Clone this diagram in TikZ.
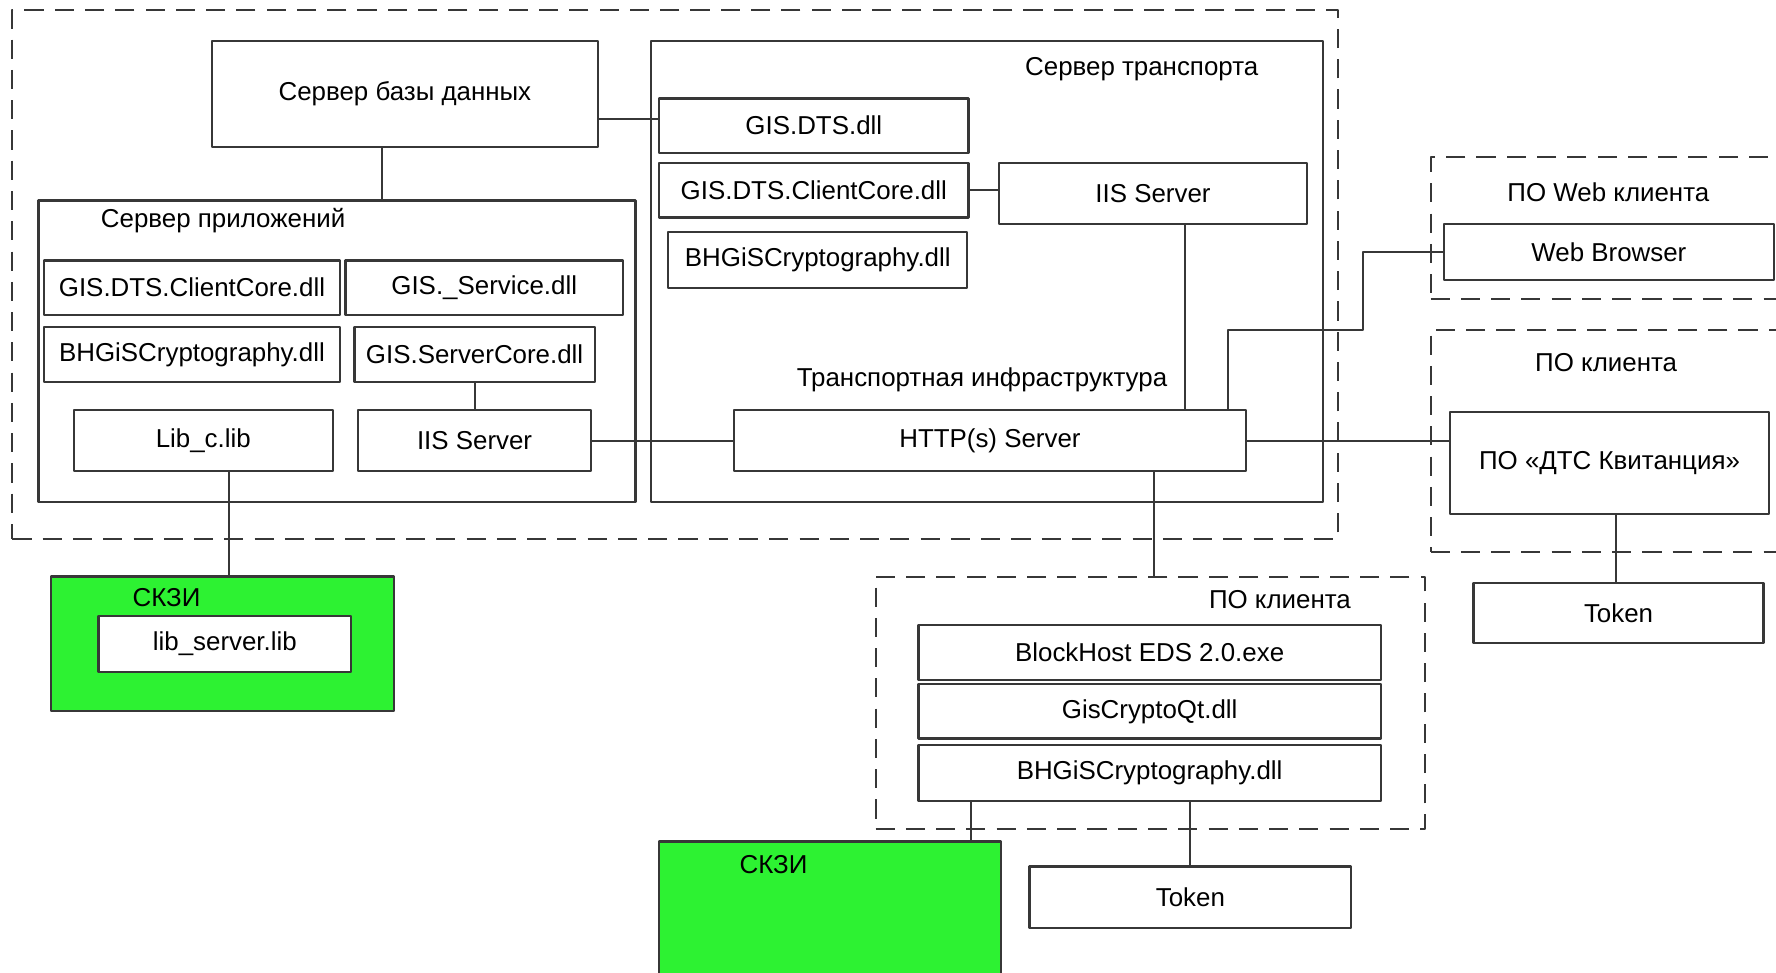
\documentclass[tikz,border=0pt]{standalone}
\usepackage{fontspec}
\setmainfont{Liberation Sans}
\definecolor{skzigreen}{RGB}{45,242,50}
\definecolor{linegray}{RGB}{55,55,55}
\begin{document}
\begin{tikzpicture}[x=0.01cm,y=-0.01cm,line join=round,font=\fontsize{6.5}{8}\selectfont,
	box/.style 2 args={draw=linegray,fill=white,line width=0.55pt,inner sep=0pt,outer sep=0pt,minimum width=#1*0.01cm,minimum height=#2*0.01cm},
	grp/.style 2 args={box={#1}{#2},fill=none,line width=0.5pt,dash pattern=on 4.8pt off 2.8pt},
	skzi/.style 2 args={box={#1}{#2},fill=skzigreen},
	lbl/.style={inner sep=0pt},
	link/.style={draw=linegray,line width=0.5pt}]
		\useasboundingbox (0,0) rectangle (1568,859);
		% сервер
		\node[grp={1170}{467}] (outer) at (596,242.5) {};
		\node[box={341}{94}] (dbsrv) at (357.5,83) {Сервер базы данных};
		\node[box={593}{407}] (trsrv) at (871.5,239.5) {};
		\node[lbl] (trlbl) at (1008,61) {Сервер транспорта};
		\node[box={273}{48}] (dtsdll) at (718.5,111) {GIS.DTS.dll};
		\node[box={273}{48}] (trcore) at (718.5,168) {GIS.DTS.ClientCore.dll};
		\node[box={272}{54}] (triis) at (1018,171) {IIS Server};
		\node[box={264}{49}] (trcrypt) at (722,229.5) {BHGiSCryptography.dll};
		\node[lbl] (infra) at (867,335) {Транспортная инфраструктура};
		\node[box={452}{54}] (http) at (874,389) {HTTP(s) Server};
		\node[box={527}{266}] (appsrv) at (297.5,310) {};
		\node[lbl] (applbl) at (197,195) {Сервер приложений};
		\node[box={261}{48}] (appcore) at (169.5,254) {GIS.DTS.ClientCore.dll};
		\node[box={245}{48}] (appsvc) at (427.5,254) {GIS.\_Service.dll};
		\node[box={261}{48}] (appcrypt) at (169.5,313) {BHGiSCryptography.dll};
		\node[box={212}{48}] (srvcore) at (419,313) {GIS.ServerCore.dll};
		\node[box={229}{54}] (libc) at (179.5,389) {Lib\_c.lib};
		\node[box={206}{54}] (appiis) at (419,389) {IIS Server};
		% клиенты
		\node[grp={327}{125}] (webgrp) at (1426.5,201.5) {};
		\node[lbl] (weblbl) at (1420,170) {ПО Web клиента};
		\node[box={291}{49}] (browser) at (1420.5,222.5) {Web Browser};
		\node[grp={327}{196}] (cligrp) at (1426.5,389) {};
		\node[lbl] (clilbl) at (1418,320) {ПО клиента};
		\node[box={282}{90}] (kvit) at (1421,409) {ПО «ДТС Квитанция»};
		\node[box={256}{53}] (token1) at (1429,541.5) {Token};
		\node[skzi={303}{119}] (skzi1) at (196.5,568.5) {};
		\node[lbl] (skzilbl1) at (147,528) {СКЗИ};
		\node[box={223}{49}] (libsrv) at (198.5,568.5) {lib\_server.lib};
		\node[grp={485}{223}] (cligrp2) at (1015.5,620.5) {};
		\node[lbl] (clilbl2) at (1130,529) {ПО клиента};
		\node[box={408}{48}] (blockhost) at (1015,576) {BlockHost EDS 2.0.exe};
		\node[box={408}{48}] (qtdll) at (1015,628) {GisCryptoQt.dll};
		\node[box={408}{49}] (clicrypt) at (1015,682.5) {BHGiSCryptography.dll};
		\node[skzi={302}{137}] (skzi2) at (733,811.5) {};
		\node[lbl] (skzilbl2) at (683,763) {СКЗИ};
		\node[box={284}{54}] (token2) at (1051,792) {Token};
		% связи
		\coordinate (xdb) at (337,0);
		\coordinate (ydts) at (0,105);
		\coordinate (xiis) at (1046,0);
		\coordinate (xweb) at (1084,0);
		\coordinate (bend) at (1203,291);
		\coordinate (xcli) at (1019,0);
		\coordinate (xlib) at (202,0);
		\coordinate (xkvit) at (1427,0);
		\coordinate (xskzi) at (857,0);
		\draw[link] (dbsrv.south -| xdb) -- (appsrv.north -| xdb);
		\draw[link] (dbsrv.east |- ydts) -- (dtsdll.west |- ydts);
		\draw[link] (trcore.east) -- (trcore.east -| triis.west);
		\draw[link] (triis.south -| xiis) -- (http.north -| xiis);
		\draw[link] (srvcore.south) -- (appiis.north);
		\draw[link] (appiis.east) -- (http.west);
		\draw[link] (http.north -| xweb) |- (bend) |- (browser.west);
		\draw[link] (http.east) -- (http.east -| kvit.west);
		\draw[link] (http.south -| xcli) -- (cligrp2.north -| xcli);
		\draw[link] (libc.south -| xlib) -- (skzi1.north -| xlib);
		\draw[link] (kvit.south -| xkvit) -- (token1.north -| xkvit);
		\draw[link] (clicrypt.south -| xskzi) -- (skzi2.north -| xskzi);
		\draw[link] (clicrypt.south -| token2.north) -- (token2.north);
\end{tikzpicture}
\end{document}
